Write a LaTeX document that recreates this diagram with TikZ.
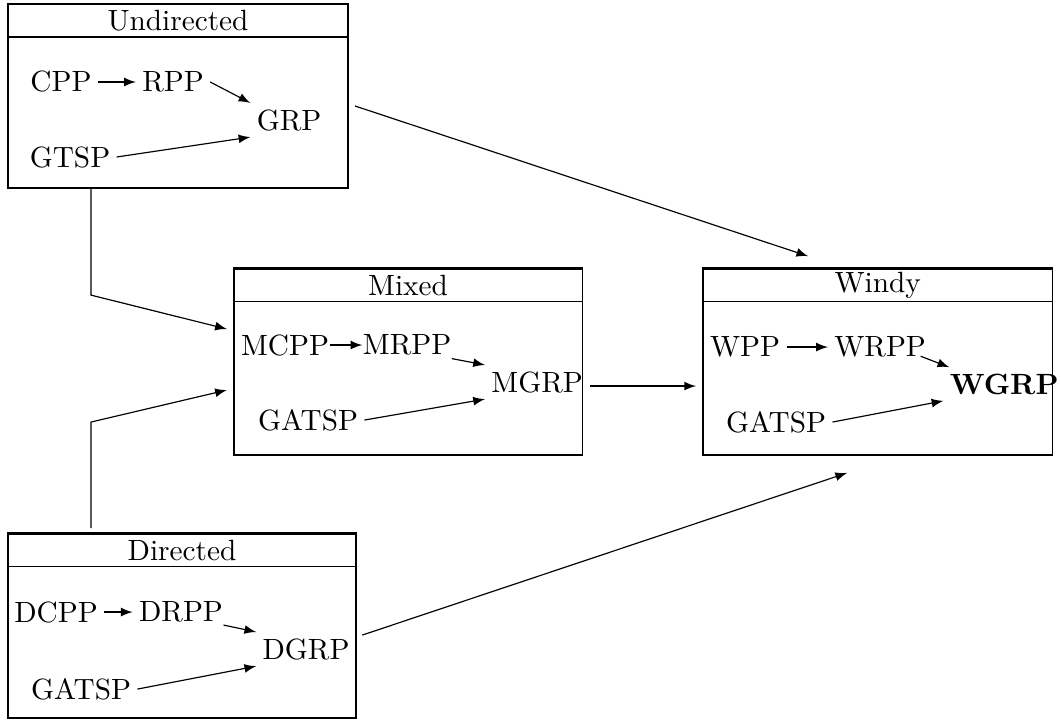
\documentclass[tikz,border=0pt]{standalone}
\usetikzlibrary{arrows}
\begin{document}
\begin{tikzpicture}[
    groupbox/.style={rectangle, draw=black, line width=0.5pt, inner sep=0pt, outer sep=0pt},
    titlebar/.style={rectangle, draw=black, line width=0.5pt, anchor=north, minimum height=0.39cm, inner sep=0pt},
    prob/.style={inner sep=2pt},
    flow/.style={-latex}
]
\useasboundingbox (0,0) rectangle (12.73,8.64);

% Groups
\node[groupbox, minimum width=4.08cm, minimum height=2.21cm] (undir) at (2.136,7.488) {};
\node[titlebar, minimum width=4.08cm] (undirtitle) at (undir.north) {Undirected};

\node[groupbox, minimum width=4.18cm, minimum height=2.24cm] (mixed) at (4.896,4.302) {};
\node[titlebar, minimum width=4.18cm] (mixedtitle) at (mixed.north) {Mixed};

\node[groupbox, minimum width=4.19cm, minimum height=2.24cm] (windy) at (10.53,4.302) {};
\node[titlebar, minimum width=4.19cm] (windytitle) at (windy.north) {Windy};

\node[groupbox, minimum width=4.18cm, minimum height=2.22cm] (direc) at (2.184,1.134) {};
\node[titlebar, minimum width=4.18cm] (directitle) at (direc.north) {Directed};

% Undirected problems
\node[prob] (cpp) at (0.732,7.656) {CPP};
\node[prob] (rpp) at (2.076,7.656) {RPP};
\node[prob] (grp) at (3.468,7.2) {GRP};
\node[prob] (gtsp) at (0.84,6.756) {GTSP};

\draw[flow] (cpp) -- (rpp);
\draw[flow] (rpp.east) -- (grp.north west);
\draw[flow] (gtsp.east) -- (grp.south west);

% Mixed problems
\node[prob] (mcpp) at (3.42,4.5) {MCPP};
\node[prob] (mrpp) at (4.884,4.5) {MRPP};
\node[prob] (mgrp) at (6.444,4.056) {MGRP};
\node[prob] (mgatsp) at (3.696,3.6) {GATSP};

\draw[flow] ([xshift=-2pt]mcpp.east) -- ([xshift=2pt]mrpp.west);
\draw[flow] ([xshift=-2pt]mrpp.-15) -- (mgrp.north west);
\draw[flow] (mgatsp.east) -- (mgrp.south west);

% Windy problems
\node[prob] (wpp) at (8.94,4.476) {WPP};
\node[prob] (wrpp) at (10.56,4.476) {WRPP};
\node[prob] (wgrp) at (12.048,4.032) {\textbf{WGRP}};
\node[prob] (wgatsp) at (9.312,3.576) {GATSP};

\draw[flow] (wpp) -- (wrpp);
\draw[flow] ([xshift=-4pt]wrpp.-10) -- ([xshift=2pt]wgrp.north west);
\draw[flow] (wgatsp.east) -- (wgrp.south west);

% Directed problems
\node[prob] (dcpp) at (0.672,1.296) {DCPP};
\node[prob] (drpp) at (2.172,1.296) {DRPP};
\node[prob] (dgrp) at (3.672,0.852) {DGRP};
\node[prob] (dgatsp) at (0.972,0.372) {GATSP};

\draw[flow] (dcpp) -- (drpp);
\draw[flow] ([xshift=-2pt]drpp.-15) -- (dgrp.north west);
\draw[flow] (dgatsp.east) -- (dgrp.south west);

% Links between groups
\draw[flow] ([shift={(0.084,-0.12)}]undir.east) -- ([shift={(-0.834,0.144)}]windy.north);
\draw[flow] ([xshift=-1.044cm]undir.south) -- ++(0,-1.284) -- ([shift={(-0.084,0.39)}]mixed.west);
\draw[flow] ([shift={(-1.092,0.06)}]direc.north) -- ++(0,1.272) -- ([shift={(-0.084,-0.342)}]mixed.west);
\draw[flow] ([shift={(0.096,-0.294)}]mixed.east) -- ([shift={(-0.084,-0.294)}]windy.west);
\draw[flow] ([shift={(0.072,-0.114)}]direc.east) -- ([shift={(-0.366,-0.216)}]windy.south);

\end{tikzpicture}
\end{document}
